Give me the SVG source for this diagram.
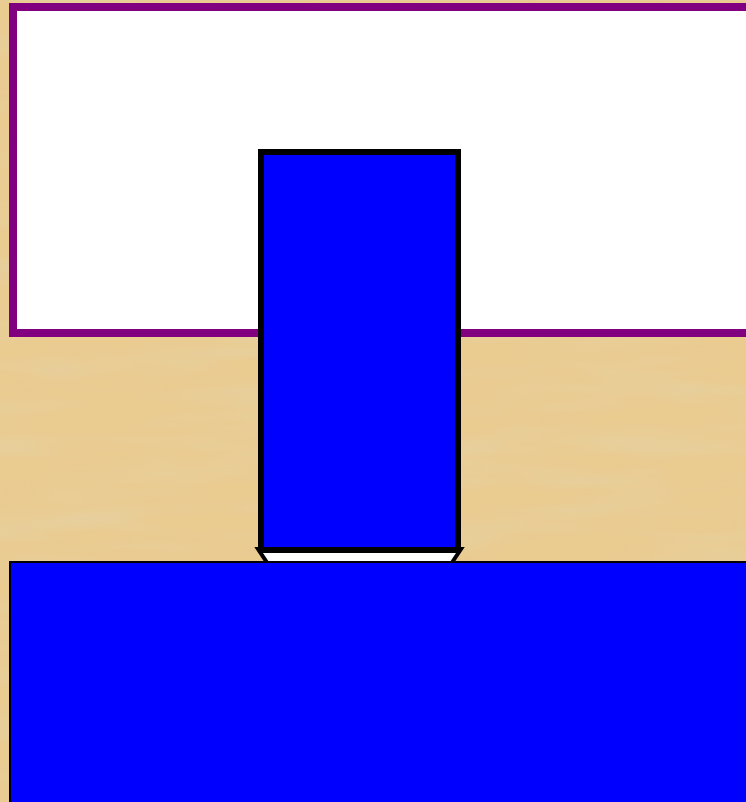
<svg xmlns="http://www.w3.org/2000/svg" width="746" height="802" viewBox="0 0 746 802">
  <defs>
    <filter id="paper" x="0" y="0" width="100%" height="100%">
      <feTurbulence type="fractalNoise" baseFrequency="0.006 0.035" numOctaves="3" seed="7" result="n"/>
      <feColorMatrix in="n" type="matrix" values="0 0 0 0 0.78  0 0 0 0 0.64  0 0 0 0 0.38  0 0 0 1.6 -0.6" result="c"/>
      <feComposite in="c" in2="SourceGraphic" operator="in"/>
    </filter>
    <style>
      .bg { fill: #eacb90; }
      .frame { fill: #ffffff; stroke: #800080; stroke-width: 8; }
      .column { fill: #0000ff; stroke: #000000; stroke-width: 6; }
      .base { fill: #0000ff; stroke: #000000; stroke-width: 2; }
      .joint { fill: #ffffff; stroke: #000000; stroke-width: 4; stroke-linejoin: miter; }
    </style>
  </defs>
  <g id="background">
    <rect class="bg" x="0" y="0" width="746" height="802"/>
    <rect x="0" y="0" width="746" height="802" fill="#e8c98e" filter="url(#paper)" opacity="0.8"/>
  </g>
  <g id="frame">
    <rect class="frame" x="13" y="7" width="760" height="326"/>
  </g>
  <g id="connectors">
    <polygon class="joint" points="258,549 461,549 451,564 268,564"/>
  </g>
  <g id="column">
    <rect class="column" x="261" y="152" width="197" height="398"/>
  </g>
  <g id="base">
    <rect class="base" x="10" y="562" width="760" height="260"/>
  </g>
</svg>
